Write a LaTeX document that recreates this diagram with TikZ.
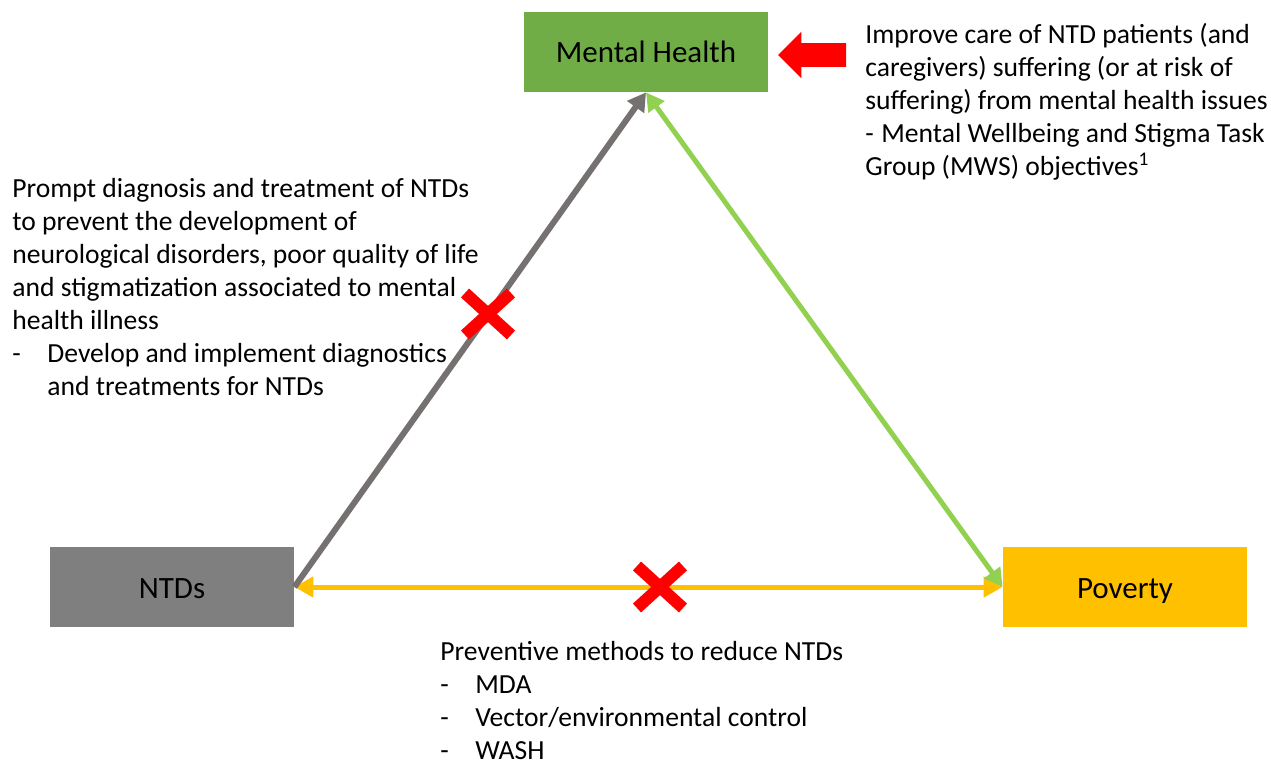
\documentclass[tikz,border=0pt]{standalone}
\usepackage{fontspec}
\setmainfont{Carlito}
\usepackage{tikz}
\usetikzlibrary{positioning, arrows.meta, shapes.arrows, shapes.misc}
\definecolor{mhGreen}{HTML}{70AD47}
\definecolor{ntdGray}{HTML}{7F7F7F}
\definecolor{povYellow}{HTML}{FFC000}
\definecolor{linkGray}{HTML}{767171}
\definecolor{linkGreen}{HTML}{92D050}
\tikzstyle{mainbox}=[minimum width=122pt, minimum height=40pt, inner sep=0pt, text height=12.5pt, text depth=1.5pt, font=\fontsize{15.5}{18}\selectfont]
\tikzstyle{notetext}=[anchor=north west, align=left, inner sep=0pt, font=\fontsize{13.8}{16.5}\selectfont]
\tikzstyle{redcross}=[cross out, draw=red, line width=6pt, minimum width=17pt, minimum height=15pt, inner sep=0pt]
\newcommand{\dashitem}[1]{\makebox[#1][l]{-}}

\begin{document}
\begin{tikzpicture}[x=0.5pt, y=-0.5pt]
\useasboundingbox (0,0) rectangle (1271,765);

\node (mh) [mainbox, fill=mhGreen] at (646,52) {Mental Health};
\node (ntds) [mainbox, fill=ntdGray] at (172,587) {NTDs};
\node (pov) [mainbox, fill=povYellow] at (1125,587) {Poverty};

\node (pointer) [single arrow, shape border rotate=180, fill=red, minimum height=34pt, minimum width=23pt, single arrow head extend=5.75pt, inner xsep=0pt, inner ysep=5.75pt] at (818,55) {};

\draw[{Triangle[length=9.5pt,width=10pt]}-{Triangle[length=9.5pt,width=10pt]}, line width=2.5pt, povYellow]
	(ntds.east) -- (pov.west);

\draw[-{Triangle[length=9pt,width=10pt]}, line width=3pt, linkGray]
	(ntds.east) -- (mh.south);

\draw[{Triangle[length=9pt,width=9.5pt]}-{Triangle[length=9pt,width=9.5pt]}, line width=2.5pt, linkGreen]
	(mh.south) -- (pov.west);

\node (crossLeft) [redcross] at (488,314) {};
\node (crossBottom) [redcross] at (660,587) {};

\node (careText) [notetext] at (865,23) {Improve care of NTD patients (and\\caregivers) suffering (or at risk of\\suffering) from mental health issues\\\dashitem{8pt}Mental Wellbeing and Stigma Task\\Group (MWS) objectives\textsuperscript{1}};

\node (promptText) [notetext] at (12,178) {Prompt diagnosis and treatment of NTDs\\to prevent the development of\\neurological disorders, poor quality of life\\and stigmatization associated to mental\\health illness\\\dashitem{17.5pt}Develop and implement diagnostics\\\hspace*{17.5pt}and treatments for NTDs};

\node (preventText) [notetext] at (440,641) {Preventive methods to reduce NTDs\\\dashitem{17.5pt}MDA\\\dashitem{17.5pt}Vector/environmental control\\\dashitem{17.5pt}WASH};
\end{tikzpicture}
\end{document}
